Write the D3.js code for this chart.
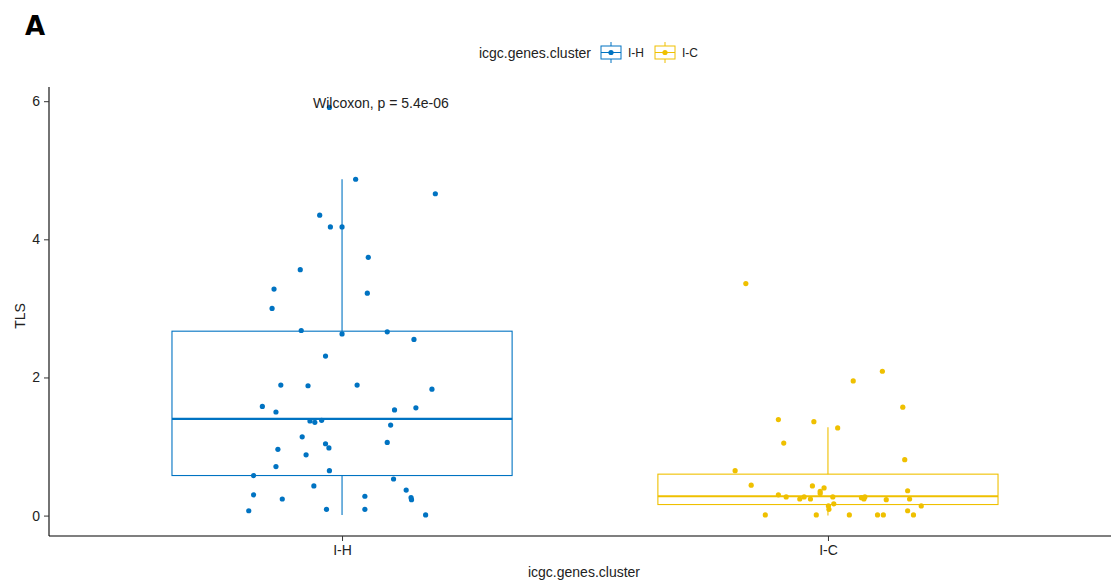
<!DOCTYPE html>
<html>
<head>
<meta charset="utf-8">
<script src="https://cdn.jsdelivr.net/npm/d3@7"></script>
<style>
  body { margin: 0; background: #fff; }
  text { font-family: "Liberation Sans", Arial, sans-serif; }
</style>
</head>
<body>
<div id="chart"></div>
<script>
const groups = ["I-H", "I-C"];
const colors = ["#0073C2", "#EFC000"];
const yTicks = [0, 2, 4, 6];

// TLS values, with jitter offsets (in category units)
const tlsIH = [5.91, 4.87, 4.66, 4.35, 4.18, 4.18, 3.74, 3.56, 3.28, 3.22, 3.00,
  2.68, 2.63, 2.66, 2.55, 2.31, 1.89, 1.88, 1.89, 1.83, 1.58, 1.50, 1.53, 1.56,
  1.37, 1.35, 1.38, 1.31, 1.14, 1.04, 0.98, 0.96, 1.06, 0.88, 0.71, 0.65, 0.58,
  0.53, 0.43, 0.37, 0.30, 0.24, 0.28, 0.26, 0.23, 0.07, 0.09, 0.09, 0.01];
const jitIH = [-0.026, 0.028, 0.192, -0.046, -0.024, 0.0, 0.054, -0.086, -0.140, 0.052, -0.144,
  -0.084, 0.0, 0.093, 0.148, -0.034, -0.126, -0.070, 0.031, 0.185, -0.164, -0.136, 0.108, 0.152,
  -0.066, -0.056, -0.042, 0.100, -0.082, -0.034, -0.027, -0.132, 0.093, -0.074, -0.136, -0.026, -0.182,
  0.106, -0.058, 0.132, -0.182, -0.123, 0.047, 0.142, 0.143, -0.192, -0.032, 0.047, 0.172];

const tlsIC = [3.36, 2.09, 1.95, 1.57, 1.39, 1.36, 1.27, 1.05, 0.81, 0.65, 0.44,
  0.43, 0.40, 0.36, 0.35, 0.32, 0.30, 0.27, 0.27, 0.24, 0.24, 0.27, 0.26, 0.27,
  0.24, 0.23, 0.24, 0.17, 0.14, 0.09, 0.14, 0.07, 0.01, 0.01, 0.01, 0.01, 0.01, 0.01];
const jitIC = [-0.169, 0.112, 0.052, 0.154, -0.102, -0.029, 0.020, -0.091, 0.158, -0.191, -0.158,
  -0.032, -0.008, 0.164, -0.016, -0.016, -0.102, -0.086, -0.049, -0.058, -0.036, 0.010, 0.069, 0.076,
  0.074, 0.120, 0.168, 0.012, 0.001, 0.002, 0.192, 0.164, -0.129, -0.024, 0.044, 0.102, 0.114, 0.176];

// box statistics per group: [lower whisker, q1, median, q3, upper whisker]
const boxIH = [0.01, 0.58, 1.40, 2.67, 4.87];
const boxIC = [0.00, 0.16, 0.28, 0.60, 1.28];

const pLabel = "Wilcoxon, p = 5.4e-06";

const W = 1111, H = 581;
const svg = d3.select("#chart").append("svg")
    .attr("width", W).attr("height", H);

const x = d3.scaleLinear().domain([0.4, 2.6]).range([50.5, 1119.5]);
const y = d3.scaleLinear().domain([-0.2955, 6.2055]).range([536, 87]);

const boxes = [boxIH, boxIC];
const vals = [tlsIH, tlsIC];
const jits = [jitIH, jitIC];

// boxes
boxes.forEach((b, i) => {
  const cx = x(i + 1), half = x(1.35) - x(1);
  const g = svg.append("g").attr("stroke", colors[i]).attr("fill", "none");
  g.append("line").attr("x1", cx).attr("x2", cx).attr("y1", y(b[3])).attr("y2", y(b[4])).attr("stroke-width", 1.1);
  g.append("line").attr("x1", cx).attr("x2", cx).attr("y1", y(b[1])).attr("y2", y(b[0])).attr("stroke-width", 1.1);
  g.append("rect").attr("x", cx - half).attr("width", 2 * half)
    .attr("y", y(b[3])).attr("height", y(b[1]) - y(b[3])).attr("stroke-width", 1.1);
  g.append("line").attr("x1", cx - half).attr("x2", cx + half)
    .attr("y1", y(b[2])).attr("y2", y(b[2])).attr("stroke-width", 2.2);
});

// jitter points
vals.forEach((v, i) => {
  svg.append("g").selectAll("circle").data(v).join("circle")
    .attr("cx", (d, k) => x(i + 1 + jits[i][k]))
    .attr("cy", d => y(d))
    .attr("r", 2.6)
    .attr("fill", colors[i]);
});

// axes
const yAxis = svg.append("g").attr("transform", "translate(49,0)")
  .call(d3.axisLeft(y).tickValues(yTicks).tickSize(5).tickPadding(4).tickFormat(d3.format("d")));
const xAxis = svg.append("g").attr("transform", "translate(0,536)")
  .call(d3.axisBottom(x).tickValues([1, 2]).tickSize(5).tickPadding(4).tickFormat(d => groups[d - 1]));
[yAxis, xAxis].forEach(a => {
  a.select(".domain").attr("stroke", "#000").attr("stroke-width", 1.1);
  a.selectAll(".tick line").attr("stroke", "#333");
  a.selectAll(".tick text").attr("fill", "#222").attr("font-size", 14)
    .style("font-family", "'Liberation Sans', Arial, sans-serif");
});
yAxis.select(".domain").attr("d", "M0,87V536");
xAxis.select(".domain").attr("d", "M49,0H1111");

// axis titles
svg.append("text").attr("x", 584).attr("y", 577).attr("text-anchor", "middle")
  .attr("font-size", 14).attr("fill", "#222").text("icgc.genes.cluster");
svg.append("text").attr("transform", "translate(25,316) rotate(-90)").attr("text-anchor", "middle")
  .attr("font-size", 14).attr("fill", "#222").text("TLS");

// p-value label
svg.append("text").attr("x", 313).attr("y", 108).attr("font-size", 14).attr("fill", "#222").text(pLabel);

// panel tag
svg.append("text").attr("x", 25).attr("y", 35).attr("font-size", 26).attr("font-weight", "bold")
  .style("font-family", "'DejaVu Sans', sans-serif").attr("fill", "#000").text("A");

// legend
const leg = svg.append("g");
leg.append("text").attr("x", 591).attr("y", 58).attr("text-anchor", "end")
  .attr("font-size", 14).attr("fill", "#222").text("icgc.genes.cluster");
const keyX = [601, 655];
groups.forEach((gname, i) => {
  const kx = keyX[i], g = leg.append("g").attr("stroke", colors[i]).attr("fill", "none");
  g.append("line").attr("x1", kx + 10).attr("x2", kx + 10).attr("y1", 42).attr("y2", 63);
  g.append("rect").attr("x", kx).attr("y", 46).attr("width", 20).attr("height", 13).attr("fill", "#fff");
  g.append("line").attr("x1", kx).attr("x2", kx + 20).attr("y1", 52.5).attr("y2", 52.5);
  leg.append("circle").attr("cx", kx + 10).attr("cy", 52.5).attr("r", 2.6).attr("fill", colors[i]);
  leg.append("text").attr("x", kx + 27).attr("y", 57).attr("font-size", 12).attr("fill", "#222").text(gname);
});
</script>
</body>
</html>
